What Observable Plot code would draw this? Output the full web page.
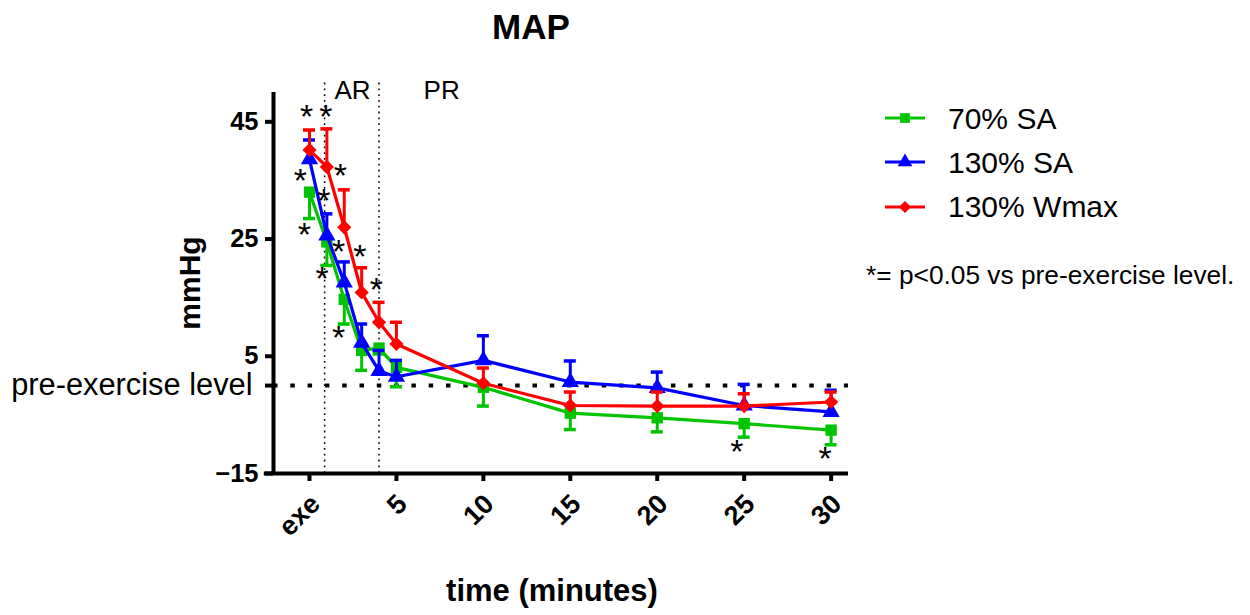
<!DOCTYPE html>
<html><head><meta charset="utf-8">
<script src="https://cdn.jsdelivr.net/npm/d3@7"></script>
<script src="https://cdn.jsdelivr.net/npm/@observablehq/plot@0.6"></script>
<style>
body{margin:0;background:#fff;font-family:"Liberation Sans",Arial,sans-serif;}
#wrap{position:relative;width:1250px;height:615px;overflow:hidden;background:#fff}
#wrap svg.plot{position:absolute;left:0;top:0}
.t{position:absolute;white-space:nowrap;line-height:1;color:#000}
</style></head><body><div id="wrap"></div><script>
// ---- data ----
const time = [0, 1, 2, 3, 4, 5, 10, 15, 20, 25, 30];
const seriesNames = ["70% SA", "130% SA", "130% Wmax"];
const seriesColors = ["#00c400", "#0000ff", "#ff0000"];
const seriesSymbols = ["square", "triangle", "diamond2"];
const errorDirection = [-1, 1, 1];
const mean70SA = [33.0, 24.5, 14.7, 6.0, 6.4, 3.1, -0.3, -4.7, -5.5, -6.5, -7.6];
const err70SA = [4.5, 4.0, 4.2, 3.4, 1.0, 3.3, 3.2, 2.8, 2.4, 2.3, 2.5];
const mean130SA = [38.6, 25.6, 17.6, 7.3, 2.5, 1.5, 4.3, 0.6, -0.4, -3.4, -4.5];
const err130SA = [3.3, 3.7, 3.5, 3.2, 3.5, 2.8, 4.2, 3.6, 2.7, 3.6, 3.7];
const mean130Wmax = [40.2, 37.3, 27.0, 15.9, 10.8, 7.1, 0.4, -3.4, -3.5, -3.5, -2.8];
const err130Wmax = [3.4, 6.5, 6.4, 4.2, 3.4, 3.7, 2.6, 2.3, 2.4, 2.1, 1.7];
const xTicks = [0, 5, 10, 15, 20, 25, 30];
const xTickLabels = ["exe", "5", "10", "15", "20", "25", "30"];
const yTicks = [-15, 5, 25, 45];
const baselineLevel = 0;
const baselineLabel = "pre-exercise level";
const phaseBounds = [0.87, 4];
const phaseLabels = ["AR", "PR"];
const phaseLabelX = [2.47, 7.6];
const starX = [-0.17, 0.94, -0.52, 1.78, 0.82, -0.29, 1.68, 2.89, 0.73, 3.85, 1.68, 24.58, 29.66];
const starY = [46.25, 46.25, 35.45, 36.23, 32.03, 26.16, 23.33, 22.36, 18.61, 16.82, 8.54, -10.79, -12.1];

// ---- build ----
const means = [mean70SA, mean130SA, mean130Wmax];
const errs = [err70SA, err130SA, err130Wmax];
const rows = seriesNames.map((s, i) => time.map((t, j) => ({
  series: s, t, v: means[i][j], end: means[i][j] + errorDirection[i] * errs[i][j]
})));
const stars = starX.map((x, i) => ({x, y: starY[i]}));
const phases = phaseLabels.map((label, i) => ({label, x: phaseLabelX[i]}));
const xDomain = [-2.07, 31];
const yDomain = [-15, 50];

const seriesMarks = seriesNames.flatMap((s, i) => [
  Plot.ruleX(rows[i], {x: "t", y1: "v", y2: "end", stroke: seriesColors[i], strokeWidth: 3}),
  Plot.ruleY(rows[i], {y: "end", x1: "t", x2: "t", insetLeft: -6, insetRight: -6, stroke: seriesColors[i], strokeWidth: 3.5}),
  Plot.line(rows[i], {x: "t", y: "v", stroke: seriesColors[i], strokeWidth: 3.2}),
  Plot.dot(rows[i], {x: "t", y: "v", symbol: () => seriesSymbols[i], fill: seriesColors[i], stroke: "none", r: 6.4})
]);

const chart = Plot.plot({
  width: 1250, height: 615,
  marginLeft: 273, marginRight: 402, marginTop: 92, marginBottom: 142,
  x: {domain: xDomain},
  y: {domain: yDomain},
  style: {fontFamily: "'Liberation Sans', Arial, sans-serif", background: "white", overflow: "visible", color: "black"},
  marks: [
    Plot.ruleX(phaseBounds, {y1: yDomain[0], y2: 52.3, stroke: "black", strokeWidth: 1.5, strokeDasharray: "1.8,4"}),
    Plot.ruleY([baselineLevel], {x1: xDomain[0], x2: xDomain[1], stroke: "black", strokeWidth: 4, strokeDasharray: "4.5,12.8"}),
    ...seriesMarks,
    Plot.text(stars, {x: "x", y: "y", text: () => "*", fontSize: 34, dy: 3, fill: "black"}),
    Plot.text(phases, {x: "x", y: () => 50.3, text: "label", fontSize: 26, fill: "black"}),
    Plot.ruleX([xDomain[0]], {y1: yDomain[0], y2: yDomain[1], stroke: "black", strokeWidth: 4}),
    Plot.ruleY([yDomain[0]], {x1: -2.6, x2: xDomain[1], stroke: "black", strokeWidth: 4}),
    Plot.axisY({ticks: yTicks, tickSize: 8, tickPadding: 7, strokeWidth: 4, fontSize: 25.5, fontWeight: "bold", label: null}),
    Plot.axisY({ticks: [baselineLevel], tickFormat: () => baselineLabel, tickSize: 8, tickPadding: 13, strokeWidth: 4, fontSize: 30.8, label: null}),
    Plot.axisX({ticks: xTicks, tickFormat: () => "", tickSize: 8, strokeWidth: 4, label: null}),
    Plot.axisX({ticks: xTicks, tickFormat: (d) => xTickLabels[xTicks.indexOf(d)], tickSize: 0, tickPadding: 14, tickRotate: -45, fontSize: 27, fontWeight: "bold", dx: 6, dy: 12, label: null})
  ]
});
chart.classList.add("plot");
const wrap = document.getElementById("wrap");
wrap.appendChild(chart);

function addText(txt, opts) {
  const d = document.createElement("div");
  d.className = "t";
  d.textContent = txt;
  const f = opts.size;
  d.style.fontSize = f + "px";
  if (opts.bold) d.style.fontWeight = "bold";
  const top = opts.baseline - 0.8465 * f;
  d.style.top = top + "px";
  if (opts.center != null) { d.style.left = opts.center + "px"; d.style.transform = "translateX(-50%)"; }
  else d.style.left = opts.left + "px";
  wrap.appendChild(d);
  return d;
}
addText("MAP", {size: 35, bold: true, baseline: 39, center: 531});
addText("time (minutes)", {size: 31, bold: true, baseline: 601, center: 552});
const yl = document.createElement("div");
yl.className = "t"; yl.textContent = "mmHg";
yl.style.fontSize = "30px"; yl.style.fontWeight = "bold";
yl.style.left = "190px"; yl.style.top = "283px";
yl.style.transform = "translate(-50%,-50%) rotate(-90deg)";
wrap.appendChild(yl);

// legend
const legendBaselines = [129.3, 173.3, 217.7];
seriesNames.forEach((s, i) => {
  const ns = "http://www.w3.org/2000/svg";
  const sv = document.createElementNS(ns, "svg");
  sv.setAttribute("width", 50); sv.setAttribute("height", 24);
  sv.style.position = "absolute"; sv.style.left = "880px";
  sv.style.top = (legendBaselines[i] - 11 - 12) + "px";
  const ln = document.createElementNS(ns, "line");
  ln.setAttribute("x1", 5); ln.setAttribute("x2", 45); ln.setAttribute("y1", 12); ln.setAttribute("y2", 12);
  ln.setAttribute("stroke", seriesColors[i]); ln.setAttribute("stroke-width", 3.2);
  sv.appendChild(ln);
  const sym = {square: d3.symbolSquare, triangle: d3.symbolTriangle, diamond2: d3.symbolDiamond2}[seriesSymbols[i]];
  const p = document.createElementNS(ns, "path");
  p.setAttribute("d", d3.symbol(sym, Math.PI * 5.5 * 5.5)());
  p.setAttribute("transform", "translate(25,12)");
  p.setAttribute("fill", seriesColors[i]);
  sv.appendChild(p);
  wrap.appendChild(sv);
  addText(s, {size: 30, baseline: legendBaselines[i], left: 948});
});
addText("*= p<0.05 vs pre-exercise level.", {size: 26.3, baseline: 284, left: 866});
</script></body></html>
